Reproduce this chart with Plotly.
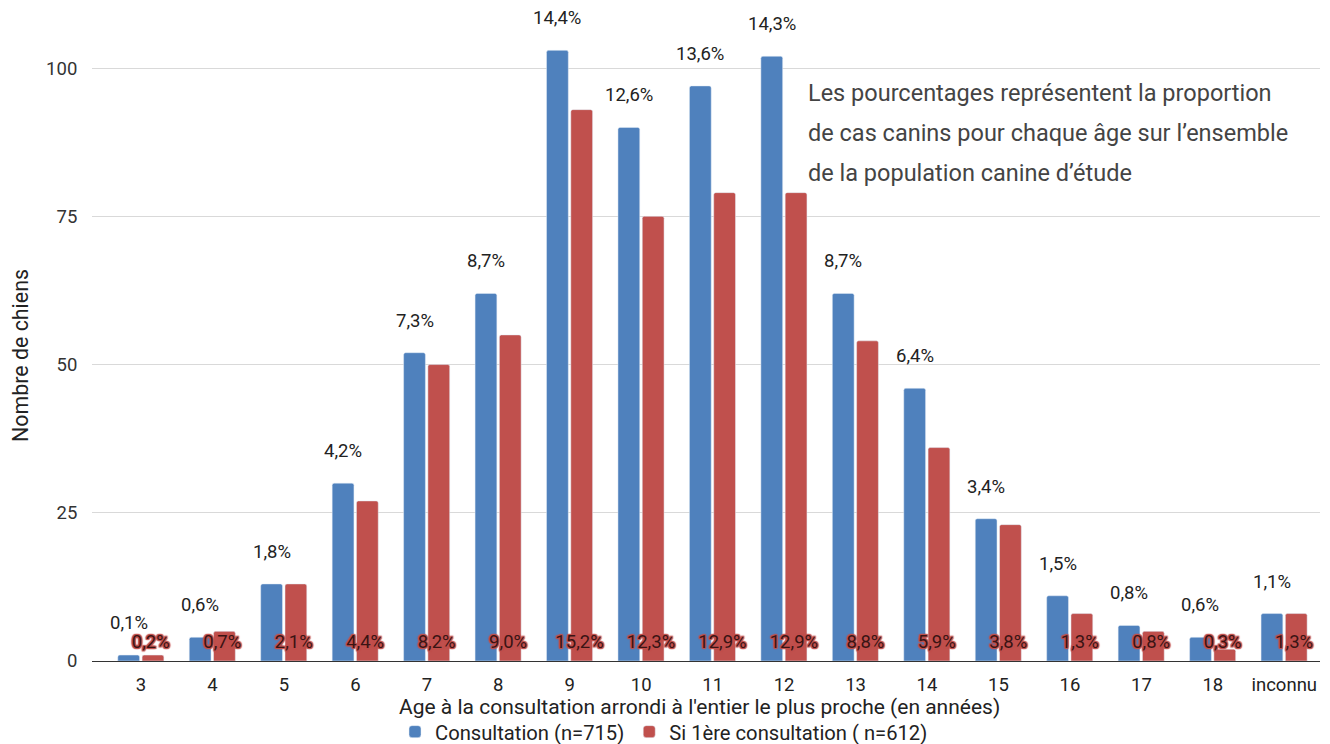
import plotly.graph_objects as go

categories = ["3", "4", "5", "6", "7", "8", "9", "10", "11", "12", "13", "14", "15", "16", "17", "18", "inconnu"]
consultation = [1, 4, 13, 30, 52, 62, 103, 90, 97, 102, 62, 46, 24, 11, 6, 4, 8]
premiere = [1, 5, 13, 27, 50, 55, 93, 75, 79, 79, 54, 36, 23, 8, 5, 2, 8]
pct_consultation = ["0,1%", "0,6%", "1,8%", "4,2%", "7,3%", "8,7%", "14,4%", "12,6%", "13,6%", "14,3%",
                    "8,7%", "6,4%", "3,4%", "1,5%", "0,8%", "0,6%", "1,1%"]
pct_premiere = ["0,2%", "0,7%", "2,1%", "4,4%", "8,2%", "9,0%", "15,2%", "12,3%", "12,9%", "12,9%",
                "8,8%", "5,9%", "3,8%", "1,3%", "0,8%", "0,3%", "1,3%"]
note_lines = ["Les pourcentages représentent la proportion",
              "de cas canins pour chaque âge sur l’ensemble",
              "de la population canine d’étude"]

BLUE = "#4f81bd"
RED = "#c0504d"
FONT = "Roboto"

L, R, T, B = 92, 10, 13, 83
PW, PH = 1330 - L - R, 744 - T - B

idx = list(range(len(categories)))
W = 0.305
OFF_B, OFF_R = -0.325, 0.015

fig = go.Figure()
fig.add_trace(go.Bar(x=idx, y=consultation, name="Consultation (n=715)", marker_color=BLUE,
                     width=W, offset=OFF_B, hoverinfo="y"))
fig.add_trace(go.Bar(x=idx, y=premiere, name="Si 1ère consultation ( n=612)", marker_color=RED,
                     width=W, offset=OFF_R, hoverinfo="y"))

# red percentage labels at the base of red bars
shadow = ", ".join(f"{a}px {b}px 1px {RED}" for a in (-1, 0, 1) for b in (-1, 0, 1) if (a, b) != (0, 0))
fig.add_trace(go.Scatter(x=[i + OFF_R + W / 2 - 0.03 for i in idx], y=[3.0] * len(idx), mode="text",
                         text=pct_premiere, textposition="middle center",
                         textfont=dict(family=FONT, size=18.5, color="#3a1414", shadow=shadow),
                         showlegend=False, hoverinfo="skip", cliponaxis=False))

annotations = []
# blue percentage labels above blue bars
for i, v, t in zip(idx, consultation, pct_consultation):
    annotations.append(dict(x=i + OFF_B + W / 2, y=v, xref="x", yref="y", text=t, showarrow=False,
                            xanchor="center", yanchor="bottom", yshift=19,
                            font=dict(family=FONT, size=18.5, color="#222222")))
for k, line in enumerate(note_lines):
    annotations.append(dict(xref="paper", yref="paper", x=(806 - L) / PW, y=1 - (93 + 40 * k - T) / PH,
                            xanchor="left", yanchor="middle", text=line, showarrow=False,
                            font=dict(family=FONT, size=23.5, color="#444444")))
annotations.append(dict(xref="paper", yref="paper", x=(699 - L) / PW, y=-(707 - (T + PH)) / PH,
                        xanchor="center", yanchor="middle",
                        text="Age à la consultation arrondi à l'entier le plus proche (en années)",
                        showarrow=False, font=dict(family=FONT, size=21, color="#222222")))
annotations.append(dict(xref="paper", yref="paper", x=-(92 - 20) / PW, y=1 - (356 - T) / PH,
                        xanchor="center", yanchor="middle", textangle=-90,
                        text="Nombre de chiens",
                        showarrow=False, font=dict(family=FONT, size=21.4, color="#222222")))

fig.update_layout(
    width=1330, height=744,
    margin=dict(l=L, r=R, t=T, b=B, autoexpand=False),
    paper_bgcolor="white", plot_bgcolor="white",
    font=dict(family=FONT, size=18.5, color="#222222"),
    barcornerradius=2,
    showlegend=True,
    legend=dict(orientation="h", xanchor="center", yanchor="middle",
                x=(664 - L) / PW, y=-(732 - (T + PH)) / PH,
                font=dict(family=FONT, size=20.2, color="#222222")),
    annotations=annotations,
    xaxis=dict(range=[-0.686, 16.5], tickmode="array", tickvals=idx, ticktext=categories,
               showgrid=False, zeroline=False, showline=True, linecolor="#333333", linewidth=1,
               ticks="outside", ticklen=7, tickcolor="rgba(0,0,0,0)",
               tickfont=dict(family=FONT, size=18.5, color="#222222")),
    yaxis=dict(range=[0, 109.3], tickmode="array", tickvals=[0, 25, 50, 75, 100],
               showgrid=True, gridcolor="#d9d9d9", zeroline=False,
               ticks="outside", ticklen=10, tickcolor="rgba(0,0,0,0)",
               tickfont=dict(family=FONT, size=18.5, color="#333333")),
)

fig.write_html("out.html", config={"displayModeBar": False},
               post_script="document.body.style.margin='0';document.body.style.overflow='hidden';")
